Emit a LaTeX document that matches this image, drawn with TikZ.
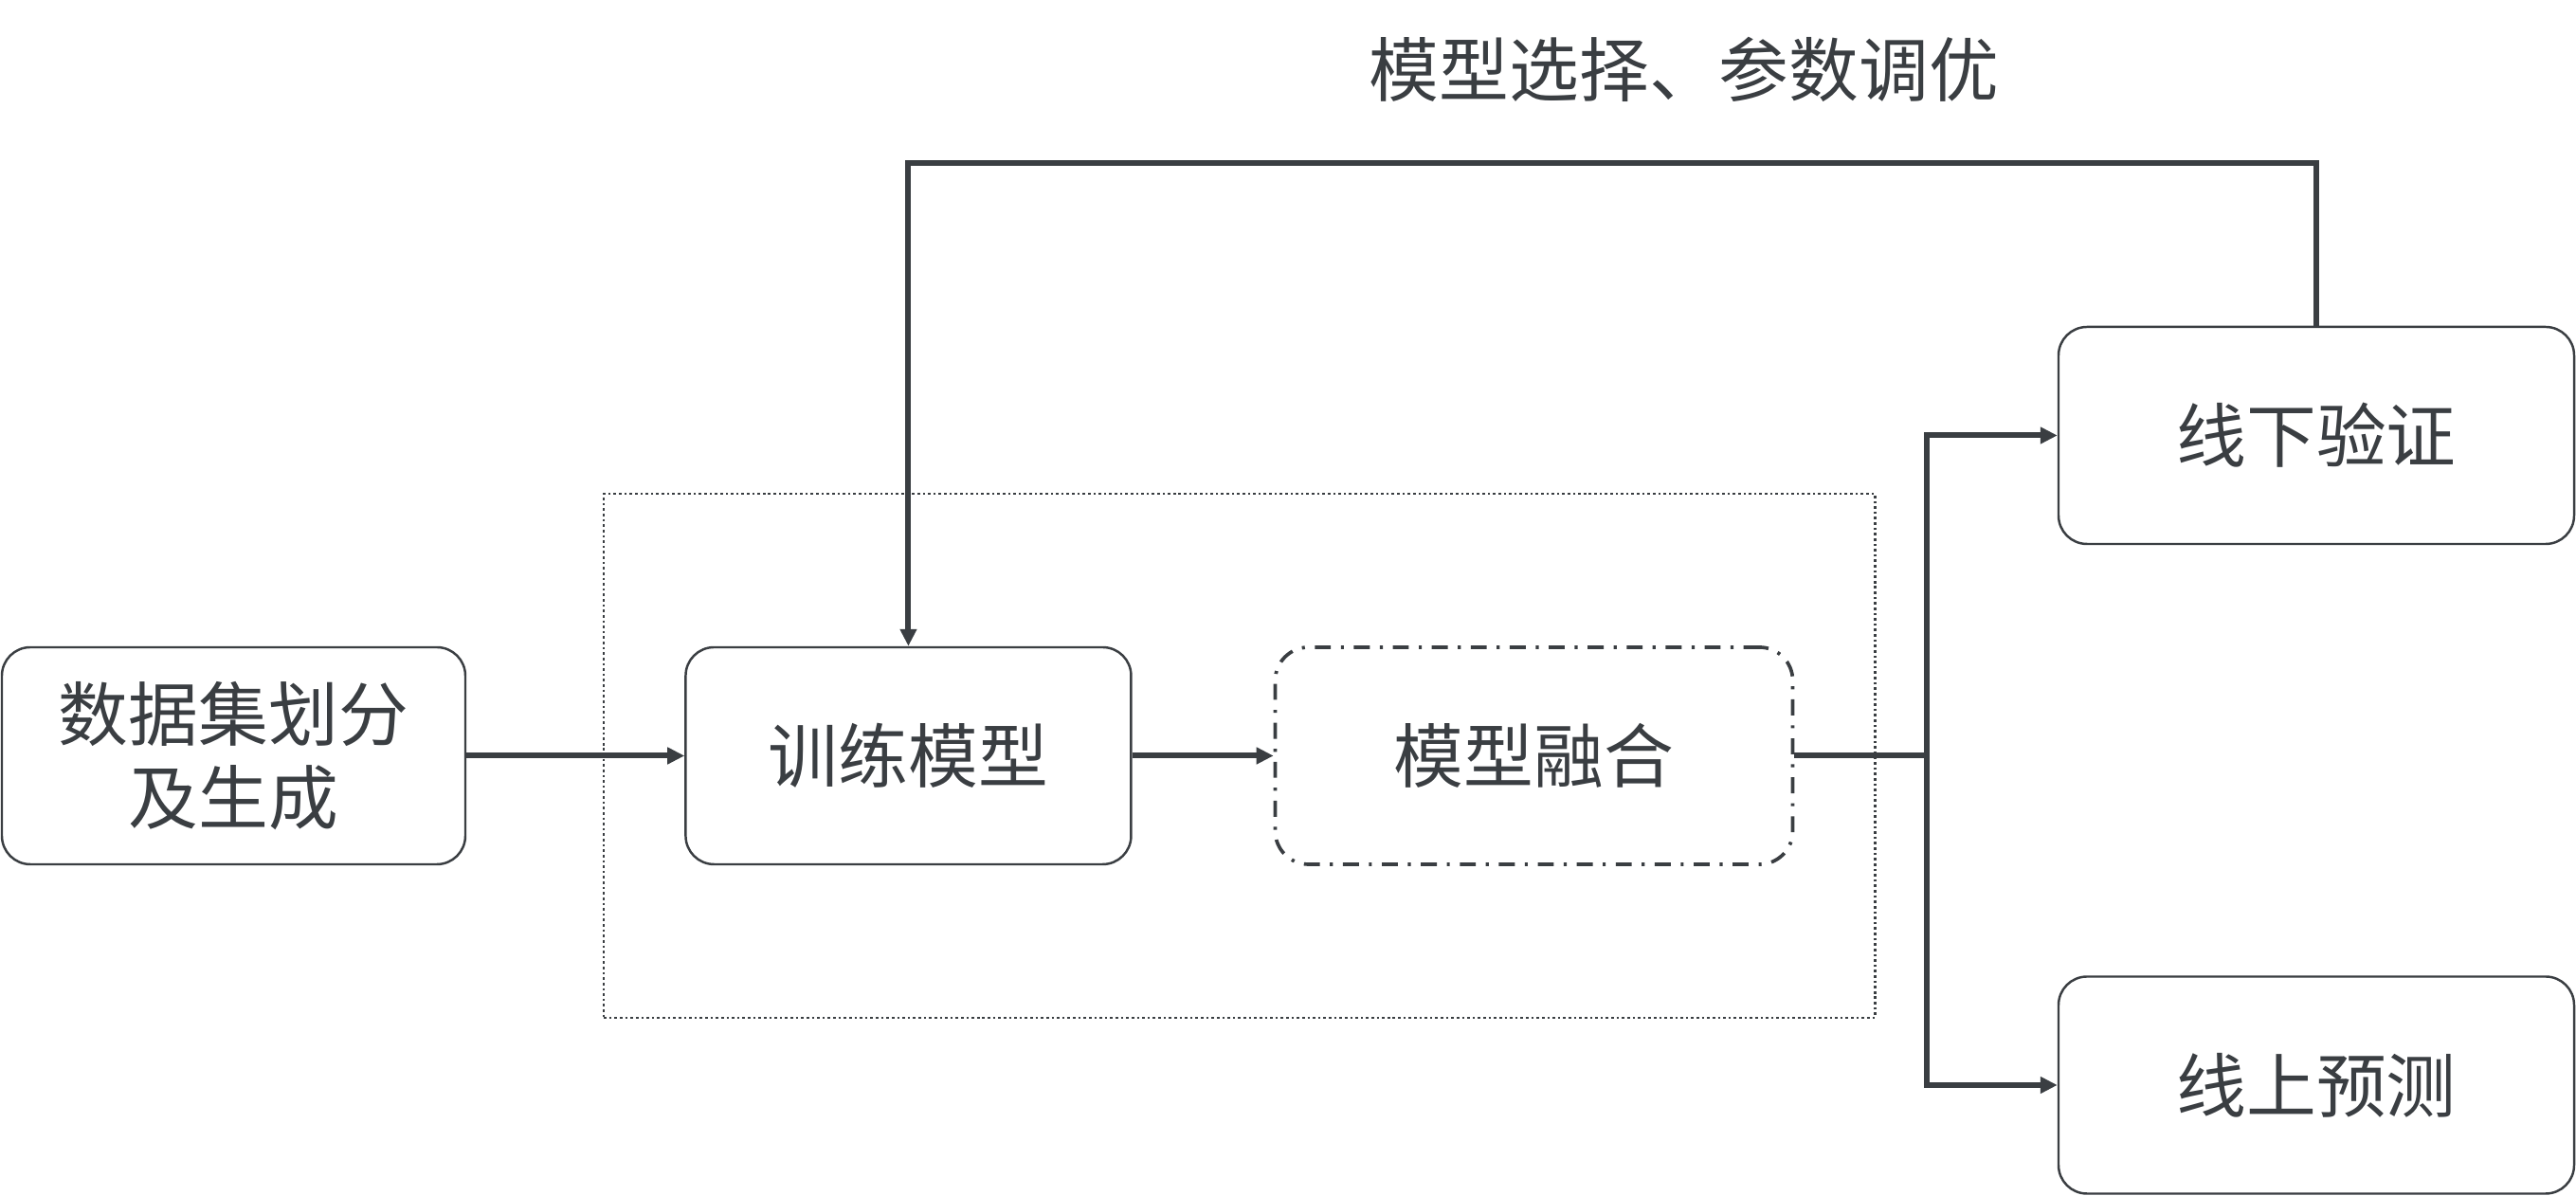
\documentclass[tikz,border=0pt]{standalone}
\usepackage{fontspec}
\setmainfont{Noto Sans CJK SC}
\usetikzlibrary{arrows.meta,positioning,fit,backgrounds}
\definecolor{inkgray}{RGB}{58,62,66}
\tikzset{
  procbox/.style={rectangle, rounded corners=3mm, draw=inkgray, line width=0.7pt,
    minimum width=4.7cm, minimum height=2.29cm, align=center,
    font=\fontsize{21}{25}\selectfont, text=inkgray},
  fusebox/.style={procbox, rounded corners=3.5mm, line width=1.05pt,
    dash pattern=on 4.8pt off 3pt on 0.9pt off 3pt, minimum width=5.46cm},
  groupbox/.style={rectangle, draw=inkgray, line width=0.65pt,
    dash pattern=on 0.75pt off 0.85pt, inner xsep=8.5mm, inner ysep=16mm},
  flow/.style={-{Triangle[length=1.8mm, width=1.7mm]}, line width=1.7pt, draw=inkgray},
  looplabel/.style={font=\fontsize{21}{25}\selectfont, text=inkgray}
}
\begin{document}
\begin{tikzpicture}
  \useasboundingbox (0,0) rectangle (27.18,12.62);

  % --- data ---
  \node[procbox, minimum width=4.89cm] (split) at (2.465,4.645) {数据集划分\\及生成};

  % --- modelling ---
  \node[procbox, right=23mm of split] (train) {训练模型};
  \node[fusebox, right=14.9mm of train] (fuse) {模型融合};

  % --- outputs ---
  \node[procbox, minimum width=5.44cm] (offline) at (24.44,8.025) {线下验证};
  \node[procbox, minimum width=5.44cm] (online) at (24.44,1.17) {线上预测};

  % group frame
  \begin{scope}[on background layer]
    \node[groupbox, fit=(train) (fuse)] (group) {};
  \end{scope}

  % ---------------- edges ----------------
  \draw[flow] (split) -- (train);
  \draw[flow] (train) -- (fuse);

  \draw[flow] (fuse.east) -- ++(1.4,0) |- (offline.west);
  \draw[flow] (fuse.east) -- ++(1.4,0) |- (online.west);

  % feedback loop
  \draw[flow] (offline.north) -- ++(0,1.72) -| (train.north);
  \node[looplabel] (tune) at (17.77,11.89) {模型选择、参数调优};

\end{tikzpicture}
\end{document}
